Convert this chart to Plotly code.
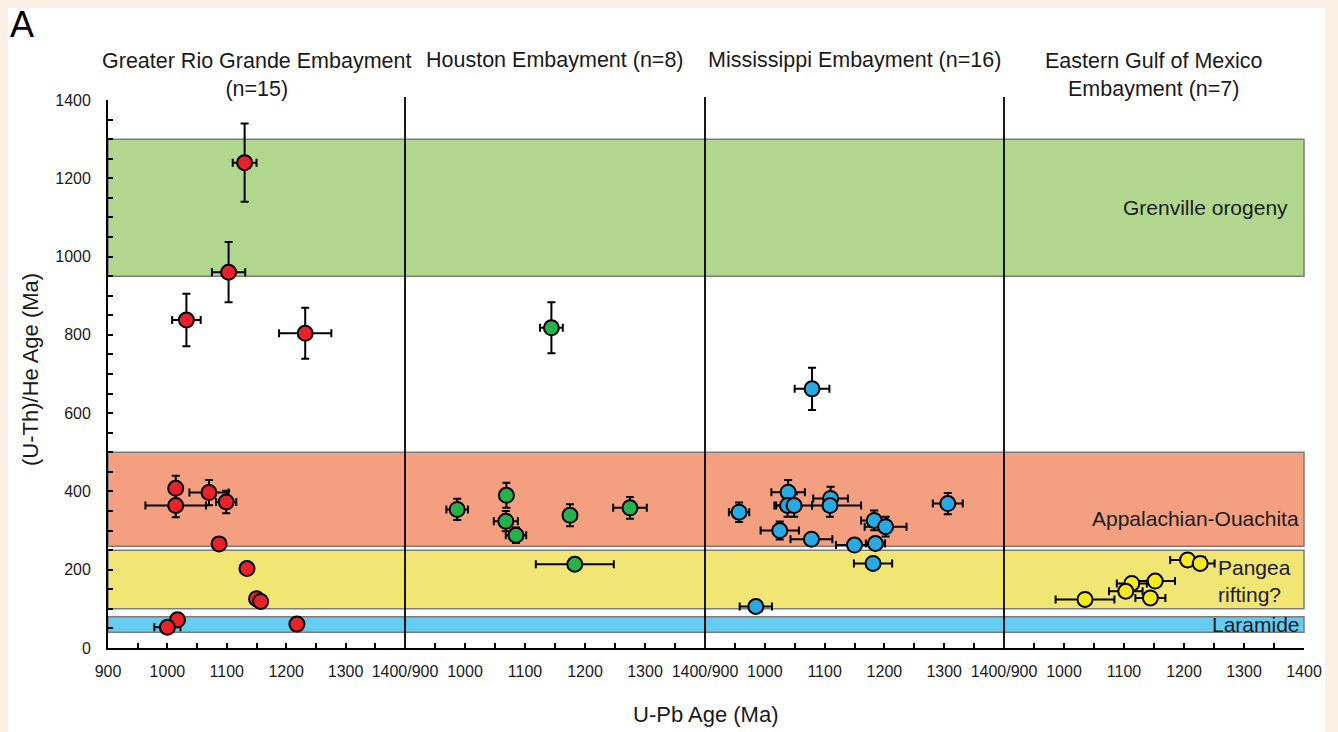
import plotly.graph_objects as go

# ---- data -------------------------------------------------------------
regions = ["Greater Rio Grande Embayment", "Houston Embayment",
           "Mississippi Embayment", "Eastern Gulf of Mexico Embayment"]

rio_upb = [1130, 1103, 1032, 1232, 1014, 1014, 1070, 1099, 1087, 1134, 1150, 1157, 1017, 1000, 1218]
rio_he = [1240, 960, 838, 804, 408, 364, 397, 373, 266, 203, 126, 119, 72, 53, 61]
rio_upb_err = [20, 28, 24, 44, 6, 51, 33, 17, 6, 6, 5, 5, 6, 22, 5]
rio_he_err = [100, 77, 67, 65, 32, 30, 32, 29, 15, 8, 8, 8, 8, 8, 8]

hou_upb = [1144, 987, 1069, 1068, 1085, 1175, 1275, 1183]
hou_he = [818, 354, 390, 324, 288, 339, 358, 214]
hou_upb_err = [19, 18, 6, 20, 17, 6, 28, 65]
hou_he_err = [65, 27, 32, 26, 20, 28, 28, 6]

mis_upb = [1079, 1039, 957, 1038, 1049, 1110, 1109, 1025, 1078, 1183, 1202, 1150, 1185, 1181, 985, 1306]
mis_he = [662, 398, 347, 364, 364, 382, 364, 300, 278, 326, 310, 263, 267, 216, 106, 369]
mis_upb_err_plus = [29, 28, 17, 22, 30, 29, 52, 32, 35, 22, 35, 31, 16, 32, 27, 25]
mis_upb_err_minus = [29, 28, 17, 22, 30, 29, 30, 32, 35, 22, 35, 31, 16, 32, 27, 25]
mis_he_err = [54, 31, 25, 29, 29, 30, 29, 23, 15, 25, 25, 15, 15, 8, 8, 27]

egm_upb = [1206, 1227, 1152, 1113, 1103, 1144, 1035]
egm_he = [225, 216, 171, 165, 145, 128, 124]
egm_upb_err = [29, 24, 33, 25, 28, 25, 49]

# tectonic events (U-Th)/He age windows
event_names = ["Grenville orogeny", "Appalachian-Ouachita", "Pangea<br>rifting?", "Laramide"]
event_low = [950, 260, 100, 40]
event_high = [1300, 500, 250, 80]
event_colors = ["#b1d78f", "#f49f80", "#f1e673", "#66cbf0"]
event_label_y = [1125, 330, 172, 59]

panel_titles = ["Greater Rio Grande Embayment<br>(n=15)", "Houston Embayment (n=8)",
                "Mississippi Embayment (n=16)", "Eastern Gulf of Mexico<br>Embayment (n=7)"]

x_tickvals = [900, 1000, 1100, 1200, 1300, 1400]
x_ticktext = [
    ["900", "1000", "1100", "1200", "1300", "1400/900"],
    ["", "1000", "1100", "1200", "1300", "1400/900"],
    ["", "1000", "1100", "1200", "1300", "1400/900"],
    ["", "1000", "1100", "1200", "1300", "1400"],
]

# ---- layout geometry (pixels of the page) -----------------------------
W, H = 1338, 732
L, R, T, B = 108, 1304, 100, 648
pw, ph = R - L, B - T
bounds_px = [108, 405, 705, 1004, 1304]
dom = [(p - L) / pw for p in bounds_px]
label_right_px = [1290, 1301, None, 1302]


def px_x(px):
    return (px - L) / pw


def px_y(py):
    return (B - py) / ph


FONT = "Arial, Liberation Sans, Helvetica, sans-serif"
TXT = "#1a1a1a"
peach = "#fcefe4"

fig = go.Figure()

series = [
    (rio_upb, rio_he, dict(array=rio_upb_err), dict(array=rio_he_err, visible=True), "#e8222a"),
    (hou_upb, hou_he, dict(array=hou_upb_err), dict(array=hou_he_err, visible=True), "#27b14b"),
    (mis_upb, mis_he, dict(array=mis_upb_err_plus, arrayminus=mis_upb_err_minus, symmetric=False),
     dict(array=mis_he_err, visible=True), "#27aae1"),
    (egm_upb, egm_he, dict(array=egm_upb_err), dict(visible=False), "#f3ea1f"),
]

for i, (xs, ys, ex, ey, col) in enumerate(series):
    ex = dict(ex, type="data", color="black", thickness=2, width=4)
    ey = dict(ey, type="data", color="black", thickness=2, width=4)
    fig.add_trace(go.Scatter(
        x=xs, y=ys, mode="markers", name=regions[i],
        xaxis="x" if i == 0 else f"x{i + 1}", yaxis="y",
        error_x=ex, error_y=ey,
        marker=dict(size=15, color=col, line=dict(color="black", width=2)),
        showlegend=False, cliponaxis=False,
    ))

shapes = []
# white page area inside the peach frame
shapes.append(dict(type="rect", xref="paper", yref="paper",
                   x0=px_x(8), x1=px_x(1325), y0=px_y(740), y1=px_y(8),
                   fillcolor="white", line=dict(width=0), layer="below"))
for lo, hi, c in zip(event_low, event_high, event_colors):
    shapes.append(dict(type="rect", xref="paper", yref="y", x0=0, x1=1, y0=lo, y1=hi,
                       fillcolor=c, line=dict(color="#7d7d7d", width=1.5), layer="below"))
# panel separators
for d in dom[1:-1]:
    shapes.append(dict(type="line", xref="paper", yref="paper", x0=d, x1=d, y0=0, y1=px_y(97),
                       line=dict(color="black", width=1.8), layer="above"))

annotations = []
for i, t in enumerate(panel_titles):
    cx = (dom[i] + dom[i + 1]) / 2
    two_line = "<br>" in t
    annotations.append(dict(text=t, xref="paper", yref="paper", x=cx,
                            y=px_y(47) if two_line else px_y(60),
                            xanchor="center", yanchor="top" if two_line else "middle",
                            showarrow=False, font=dict(family=FONT, size=21.5, color=TXT)))

for name, ly, rx in zip(event_names, event_label_y, label_right_px):
    if "<br>" in name:
        annotations.append(dict(text=name, xref="paper", yref="y", x=px_x(1216), y=ly,
                                xanchor="left", yanchor="middle", align="left", showarrow=False,
                                font=dict(family=FONT, size=21, color=TXT)))
    else:
        annotations.append(dict(text=name, xref="paper", yref="y", x=px_x(rx), y=ly,
                                xanchor="right", yanchor="middle", showarrow=False,
                                font=dict(family=FONT, size=21, color=TXT)))

annotations.append(dict(text="A", xref="paper", yref="paper", x=px_x(8), y=px_y(25),
                        xanchor="left", yanchor="middle", showarrow=False,
                        font=dict(family=FONT, size=36, color="black")))
annotations.append(dict(text="U-Pb Age (Ma)", xref="paper", yref="paper", x=px_x(706), y=px_y(714),
                        xanchor="center", yanchor="middle", showarrow=False,
                        font=dict(family=FONT, size=22, color=TXT)))
annotations.append(dict(text="(U-Th)/He Age (Ma)", xref="paper", yref="paper", x=px_x(30), y=px_y(370),
                        xanchor="center", yanchor="middle", textangle=-90, showarrow=False,
                        font=dict(family=FONT, size=22, color=TXT)))

layout = dict(
    width=W, height=H,
    margin=dict(l=L, r=W - R, t=T, b=H - B, pad=0),
    paper_bgcolor=peach, plot_bgcolor="white",
    showlegend=False,
    font=dict(family=FONT, color=TXT),
    shapes=shapes, annotations=annotations,
    yaxis=dict(range=[0, 1400], tickvals=[0, 200, 400, 600, 800, 1000, 1200, 1400],
               ticks="inside", ticklen=5, tickwidth=1.5, tickcolor="black",
               minor=dict(dtick=50, ticks="inside", ticklen=5, tickwidth=1.5, tickcolor="black"),
               showline=True, linecolor="black", linewidth=1.8, showgrid=False, zeroline=False,
               tickfont=dict(family=FONT, size=16, color=TXT), ticklabelstandoff=12,
               anchor="x", fixedrange=True, automargin=False),
)
for i in range(4):
    key = "xaxis" if i == 0 else f"xaxis{i + 1}"
    layout[key] = dict(
        domain=[dom[i], dom[i + 1]], range=[900, 1400], anchor="y",
        tickvals=x_tickvals, ticktext=x_ticktext[i],
        ticks="inside", ticklen=5, tickwidth=1.5, tickcolor="black",
        minor=dict(dtick=50, tick0=900, ticks="inside", ticklen=5, tickwidth=1.5, tickcolor="black"),
        showline=True, linecolor="black", linewidth=1.8, showgrid=False, zeroline=False,
        tickfont=dict(family=FONT, size=16, color=TXT), ticklabelstandoff=8,
        fixedrange=True, automargin=False,
    )

fig.update_layout(**layout)
fig.write_html("out.html")
